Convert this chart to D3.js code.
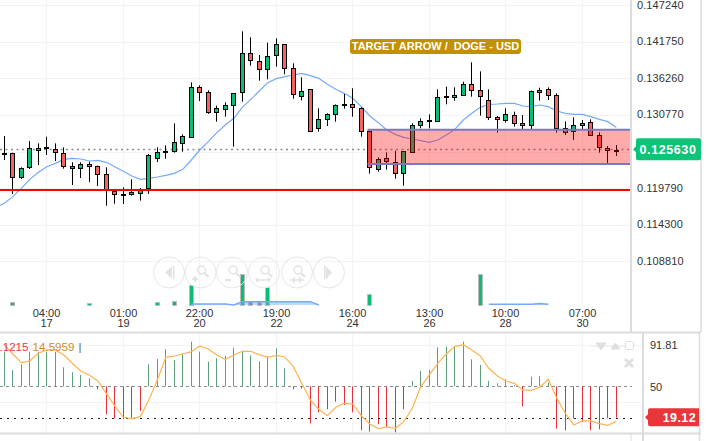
<!DOCTYPE html>
<html><head><meta charset="utf-8">
<style>html,body{margin:0;padding:0;background:#fff}svg{display:block;font-family:"Liberation Sans",Arial,sans-serif}</style>
<script src="https://cdn.jsdelivr.net/npm/d3@7/dist/d3.min.js"></script></head>
<body><div id="c"></div>
<script>
const opens=[.124835,.125035,.121385,.122885,.125435,.125735,.125635,.125035,.122735,.122735,.123385,.123085,.121885,.119435,.118835,.118835,.119135,.119735,.124385,.125285,.125335,.126635,.127435,.134935,.134185,.131135,.131635,.132235,.134185,.140035,.138835,.137585,.139735,.141385,.137785,.133685,.134635,.128785,.130135,.130885,.132185,.132385,.131785,.128335,.122785,.124285,.123685,.122035,.125185,.129235,.129835,.129835,.133535,.133535,.133735,.135385,.134485,.132985,.130435,.129935,.130735,.129535,.129185,.134185,.134635,.133785,.128885,.128335,.129185,.129685,.127735,.125785,.125435];
const closes=[.125035,.121435,.122785,.125785,.125785,.125935,.125135,.123085,.123085,.123385,.123035,.121835,.119535,.119035,.118935,.119185,.119735,.124735,.125285,.125385,.126685,.127635,.134935,.134185,.131135,.131785,.132235,.134035,.140035,.138985,.137585,.139585,.141385,.137785,.133885,.134435,.128335,.130135,.130885,.132235,.132385,.131885,.128335,.122935,.124235,.123835,.122035,.125335,.129235,.129835,.130035,.133435,.133635,.133785,.135385,.134485,.133635,.130435,.130135,.130885,.129535,.129185,.134335,.134535,.133685,.128885,.128335,.129235,.129535,.127685,.125885,.125435,.125585];
const highs=[.127635,.125135,.122935,.126885,.126535,.127535,.126535,.125935,.123685,.123685,.123785,.123185,.122935,.119535,.119935,.121135,.119835,.124935,.125935,.126235,.129535,.127885,.135685,.135235,.134485,.132185,.132685,.134035,.143335,.142435,.139785,.141635,.142285,.141385,.138535,.136435,.134635,.131785,.131035,.132385,.133935,.134785,.131935,.128335,.124435,.125185,.125435,.125385,.129535,.130285,.130885,.134635,.135035,.134935,.135785,.138685,.137335,.134635,.130635,.131785,.131285,.130785,.134435,.134885,.134935,.134035,.129835,.130435,.130035,.130135,.128185,.126135,.126285];
const lows=[.124035,.118935,.121185,.122685,.123285,.124785,.123885,.122735,.120285,.121335,.120735,.120135,.117185,.117485,.117435,.118685,.117935,.118935,.123735,.124235,.125135,.125285,.127435,.132885,.130935,.129785,.130535,.126035,.132785,.138185,.135935,.136135,.138035,.136885,.133235,.132985,.128335,.128285,.129135,.129785,.131735,.130535,.127535,.121985,.122285,.122585,.121235,.120185,.125185,.128785,.128785,.129835,.132385,.132935,.133635,.133535,.130685,.130035,.128135,.129635,.129035,.128635,.128635,.132935,.133035,.128135,.127785,.127035,.128635,.127685,.125135,.123435,.124635];
const maValues=[.116935,.117535,.118535,.119785,.121135,.122185,.123035,.123535,.124135,.124285,.124185,.123885,.123985,.123685,.123035,.122335,.121635,.121135,.121285,.121485,.121735,.122035,.122635,.124035,.125535,.126785,.128135,.129285,.130285,.131935,.133135,.134385,.135635,.136235,.136535,.136785,.137035,.136685,.136285,.135385,.134635,.134035,.133285,.132035,.130635,.129635,.128535,.127885,.127435,.127185,.126935,.126685,.127035,.127785,.128635,.130035,.131035,.131935,.132385,.132435,.132535,.132535,.132135,.132035,.132285,.132035,.131385,.131035,.130885,.130885,.130535,.130135,.129785,.128935];
const volumes=[0,3.3,0,0,0,0,0,0,0,0,2,0,0,0,0,0,0,0,2.7,0,4.3,0,20,0,0,0,0,0,31,4.3,3,18,0,0,0,0,0,0,0,0,0,0,0,11,0,0,0,0,0,0,0,0,0,0,0,.5,31,0,0,0,0,0,0,0,0,0,0,0,0,0,0,0,0];
const volumeMA=[null,null,null,null,null,null,null,null,null,null,null,null,null,null,null,null,null,null,null,null,null,null,1,1,1,1,1,0,3.3,3.3,3.3,3.3,3.3,3.3,3.3,3.3,3.3,0,null,null,null,null,null,null,null,null,null,null,null,null,null,null,null,null,null,null,null,.8,.8,.8,.8,.8,.8,1.5,.8,null,null,null,null,null,null,null,null];
const oscHist=[84.09,66.06,71.63,84.09,84.09,84.09,84.09,68.68,63.77,61.15,57.87,47.05,22.46,18.53,17.55,19.19,25.74,71.63,76.88,86.39,75.9,82.12,93.93,84.09,74.26,77.54,79.83,88.02,84.09,80.49,74.59,79.17,87.37,67.7,47.05,47.71,13.61,24.43,27.38,34.92,31.64,24.43,6.73,5.42,12.63,10.34,4.44,27.38,55.24,65.08,66.06,88.35,89.01,89.01,93.93,76.55,70.98,55.24,52.95,56.88,51.31,30.33,59.51,60.16,53.61,8.37,6.73,18.53,15.25,6.73,7.71,18.53,19.12];
const oscSignal=[90.65,81.8,73.27,74.91,82.45,85.73,85.73,80.81,72.62,65.08,61.15,55.24,43.12,30.66,19.51,18.2,20.17,36.56,56.23,78.52,79.83,81.8,84.09,89.66,86.71,80.81,76.55,80.81,84.42,84.42,81.14,78.52,80.49,78.85,69.34,52.95,36.56,27.38,21.15,29.35,33.28,32.63,21.15,12.96,8.37,10.01,8.7,15.25,28.37,49.67,61.15,72.62,81.8,89.01,90.98,85.73,79.83,67.7,60.16,55.24,52.95,46.39,46.07,49.02,56.88,38.2,23.45,11.97,15.91,15.91,13.29,11.65,15.58];
const priceTicks=[.14724,.14175,.13626,.13077,.11979,.1143,.10881];
const tickIndex=[5,14,23,32,41,50,59,68];
const tickTimes=["04:00","01:00","22:00","19:00","16:00","13:00","10:00","07:00"];
const tickDays=["17","19","20","22","24","26","28","30"];
const lastPrice=.12563, supportLevel=.119535, zoneTop=.128585, zoneBottom=.123435, zoneStart=43;
const oscTicks=[91.81,50], oscLast=19.12;

const W=708,H=441;
const svg=d3.select("#c").append("svg").attr("width",W).attr("height",H);
const x=d3.scaleLinear().domain([0,72]).range([4.3,616.3]);
const sx=i=>Math.floor(x(i))+.5;
const y=d3.scaleLinear().domain([.148035,.103035]).range([0,300]);
const yo=d3.scaleLinear().domain([50,19.12]).range([386.3,417.7]);
const yv=d3.scaleLinear().domain([0,31]).range([305,274]);
const GRID="#f3f3f3",BAND="#dcdcdc",GREEN="#0bbd74",RED="#f2655f";

svg.append("defs").append("clipPath").attr("id","pc").append("rect").attr("width",630).attr("height",332);
svg.select("defs").append("clipPath").attr("id","oc").append("rect").attr("y",334).attr("width",642).attr("height",99);
const main=svg.append("g").attr("clip-path","url(#pc)");
const low=svg.append("g").attr("clip-path","url(#oc)");

// grids
main.selectAll(".hg").data(d3.range(0,8)).join("line").attr("x1",0).attr("x2",630)
 .attr("y1",i=>Math.round(y(.14724-i*.00549))+.5).attr("y2",i=>Math.round(y(.14724-i*.00549))+.5).attr("stroke",GRID);
main.selectAll(".vg").data(tickIndex).join("line").attr("x1",i=>sx(i)).attr("x2",i=>sx(i)).attr("y1",0).attr("y2",304).attr("stroke",GRID);
low.selectAll(".vg").data(tickIndex).join("line").attr("x1",i=>sx(i)).attr("x2",i=>sx(i)).attr("y1",334).attr("y2",433).attr("stroke",GRID);
[345,402].forEach(v=>low.append("line").attr("x1",0).attr("x2",642).attr("y1",v+.5).attr("y2",v+.5).attr("stroke",GRID));

// last price dotted line
main.append("line").attr("x1",0).attr("x2",630).attr("y1",Math.round(y(lastPrice))+.5).attr("y2",Math.round(y(lastPrice))+.5)
 .attr("stroke","#8c8c8c").attr("stroke-width",1.4).attr("stroke-dasharray","2 3.5");

// MA
main.append("path").datum(maValues).attr("fill","none").attr("stroke","#75a9fb").attr("stroke-width",1.2)
 .attr("d",d3.line().x((d,i)=>x(i-1)).y(d=>y(d)));

// candles
const cg=main.selectAll(".c").data(d3.range(opens.length)).join("g");
cg.append("line").attr("x1",sx).attr("x2",sx).attr("y1",i=>y(highs[i])).attr("y2",i=>y(lows[i])).attr("stroke","#000").attr("stroke-width",1);
cg.append("rect").attr("x",i=>sx(i)-2).attr("width",4)
 .attr("y",i=>Math.round(y(Math.max(opens[i],closes[i])))+.5)
 .attr("height",i=>Math.max(.5,Math.round(Math.abs(y(opens[i])-y(closes[i])))))
 .attr("fill",i=>closes[i]>=opens[i]?GREEN:RED).attr("stroke","#000").attr("stroke-width",1);

// support
main.append("line").attr("x1",0).attr("x2",630).attr("y1",y(supportLevel)).attr("y2",y(supportLevel)).attr("stroke","#f00").attr("stroke-width",2);

// zone
const zx=sx(zoneStart)-2;
main.append("rect").attr("x",zx).attr("width",630-zx).attr("y",y(zoneTop)).attr("height",y(zoneBottom)-y(zoneTop)).attr("fill","#ff0000").attr("fill-opacity",.33);
[zoneTop,zoneBottom].forEach(p=>main.append("line").attr("x1",zx).attr("x2",630).attr("y1",y(p)).attr("y2",y(p)).attr("stroke","#7b78c2").attr("stroke-width",2));

// volume
main.selectAll(".v").data(d3.range(volumes.length).filter(i=>volumes[i]>0)).join("rect")
 .attr("x",i=>sx(i)-2).attr("width",4).attr("y",i=>Math.round(yv(volumes[i]))+.5).attr("height",i=>305-Math.round(yv(volumes[i])))
 .attr("fill",i=>(i===29||i===30)?"#b0707f":(i===55?"#ddd":GREEN)).attr("stroke","#bdbdbd").attr("stroke-width",1);
const va=d3.area().defined(d=>d!==null).x((d,i)=>x(i)).y0(yv(0)).y1(d=>yv(d));
main.append("path").datum(volumeMA).attr("fill","#75a9fb").attr("fill-opacity",.45).attr("d",va);
main.append("path").datum(volumeMA).attr("fill","none").attr("stroke","#75a9fb").attr("stroke-width",1.4).attr("d",d3.line().defined(d=>d!==null).x((d,i)=>x(i)).y(d=>yv(d)));

// toolbar
const tb=svg.append("g").attr("fill","none").attr("stroke","#e6e6e6").attr("stroke-width",1);
const cxs=[169,200.5,232,264,297,329];
cxs.forEach(c=>tb.append("circle").attr("cx",c).attr("cy",272.5).attr("r",15.5));
const ic="#e2e2e2";
tb.append("path").attr("d","M165 272.5l7-6v12z").attr("fill",ic).attr("stroke","none");
tb.append("rect").attr("x",173).attr("y",266).attr("width",1.5).attr("height",13).attr("fill",ic).attr("stroke","none");
tb.append("path").attr("d","M332 272.5l-6-6v13z").attr("fill",ic).attr("stroke","none");
tb.append("rect").attr("x",324).attr("y",266).attr("width",1.5).attr("height",13).attr("fill",ic).attr("stroke","none");
[200.5,232,264,297].forEach(c=>{
  tb.append("circle").attr("cx",c+1).attr("cy",270).attr("r",4).attr("stroke",ic).attr("stroke-width",1.5);
  tb.append("line").attr("x1",c+4).attr("y1",273).attr("x2",c+8).attr("y2",277).attr("stroke",ic).attr("stroke-width",2);
});
tb.append("path").attr("d","M192 279h6M195 276v6").attr("stroke",ic).attr("stroke-width",2);
tb.append("path").attr("d","M225 280h6").attr("stroke",ic).attr("stroke-width",2);
tb.append("path").attr("d","M256 280h14M256 280l2-2M256 280l2 2M270 280l-2-2M270 280l-2 2").attr("stroke",ic).attr("stroke-width",1.5);
tb.append("path").attr("d","M290 280h14M294 277v6M300 277v6").attr("stroke",ic).attr("stroke-width",1.5);

// oscillator
low.append("line").attr("x1",0).attr("x2",632).attr("y1",Math.round(yo(50))+.5).attr("y2",Math.round(yo(50))+.5).attr("stroke","#8c8c8c").attr("stroke-dasharray","3 3");
low.selectAll(".h").data(d3.range(oscHist.length)).join("line")
 .attr("x1",sx).attr("x2",sx).attr("y1",yo(50)).attr("y2",i=>yo(oscHist[i]))
 .attr("stroke",i=>oscHist[i]>=50?"#5c9f7a":"#e8303a").attr("stroke-width",1);
low.append("line").attr("x1",0).attr("x2",632).attr("y1",Math.round(yo(oscLast))+.5).attr("y2",Math.round(yo(oscLast))+.5).attr("stroke","#222").attr("stroke-dasharray","2 5");
low.append("path").datum(oscSignal).attr("fill","none").attr("stroke","#ffb24f").attr("stroke-width",1.2)
 .attr("d",d3.line().x((d,i)=>x(i)).y(d=>yo(d)));

// legend text
const leg=svg.append("text").attr("x",-.5).attr("y",351).attr("font-size",11.6);
leg.append("tspan").attr("fill","#e8383a").text(".1215");
leg.append("tspan").attr("dx",4).attr("fill","#cf8a30").text("14.5959");
leg.append("tspan").attr("dx",4).attr("fill","#666").text("|");

// panel icons
const pi=svg.append("g");
pi.append("line").attr("x1",590).attr("x2",632).attr("y1",346.5).attr("y2",346.5).attr("stroke","#f0f0f0");
pi.append("path").attr("d","M596 343h10l-5 7z").attr("fill","#dfdfdf").attr("stroke","#dfdfdf").attr("stroke-linejoin","round");
pi.append("path").attr("d","M611 349h9l-4.5-6z").attr("fill","#dfdfdf").attr("stroke","#dfdfdf").attr("stroke-linejoin","round");
pi.append("rect").attr("x",625.5).attr("y",341.5).attr("width",8).attr("height",8).attr("rx",1).attr("fill","#fff").attr("stroke","#dfdfdf");
pi.append("path").attr("d","M625 359l8 8M633 359l-8 8").attr("stroke","#dfdfdf").attr("stroke-width",2.6);

// frame bands
const band=(a,b,c,d,w)=>svg.append("line").attr("x1",a).attr("y1",b).attr("x2",c).attr("y2",d).attr("stroke",BAND).attr("stroke-width",w);
band(631,0,631,332,2); band(701,0,701,332,1.5);
band(0,332.5,701,332.5,2); band(0,433.5,701,433.5,2);
band(643,333,643,441,2); band(699.5,333,699.5,441,1.5);
band(631,433,631,441,1);

// x labels
const xa=svg.append("g").attr("text-anchor","middle").attr("font-size",11).attr("fill","#333");
tickIndex.forEach((t,k)=>{
  xa.append("text").attr("x",sx(t)).attr("y",316.5).text(tickTimes[k]);
  xa.append("text").attr("x",sx(t)).attr("y",327).text(tickDays[k]);
});

// right axis
const ax=svg.append("g").attr("transform","translate(637,-0.8)").call(d3.axisRight(y).tickValues(priceTicks).tickSize(0).tickPadding(0).tickFormat(d3.format(".6f")));
ax.select(".domain").remove();
ax.selectAll("text").attr("font-size",11).attr("font-family","inherit").attr("fill","#333").attr("letter-spacing",".1px");
const ax2=svg.append("g").attr("transform","translate(650,0.8)").call(d3.axisRight(yo).tickValues(oscTicks).tickSize(0).tickPadding(0).tickFormat(d3.format(".4~f")));
ax2.select(".domain").remove();
ax2.selectAll("text").attr("font-size",11).attr("font-family","inherit").attr("fill","#333");

// last price tag
const yp=y(lastPrice);
svg.append("path").attr("d",`M633 ${yp}l3-3v-6a2 2 0 0 1 2-2h61a2 2 0 0 1 2 2v18a2 2 0 0 1-2 2h-61a2 2 0 0 1-2-2v-6z`).attr("fill","#0cc477");
svg.append("text").attr("x",668).attr("y",yp+4.5).attr("text-anchor","middle").attr("font-size",12.5).attr("font-weight","bold").attr("fill","#fff").attr("letter-spacing",".6px").text(d3.format(".6f")(lastPrice));

// osc tag
const yq=yo(oscLast);
svg.append("path").attr("d",`M645 ${yq-.5}l3-3v-4a2 2 0 0 1 2-2h49v18h-49a2 2 0 0 1-2-2v-4z`).attr("fill","#ea363a");
svg.append("text").attr("x",696).attr("y",yq+3.8).attr("text-anchor","end").attr("font-size",12.5).attr("font-weight","bold").attr("fill","#fff").attr("letter-spacing",".4px").text(d3.format(".2f")(oscLast));

// annotation
svg.append("rect").attr("x",350).attr("y",39).attr("width",171).attr("height",15).attr("rx",3).attr("fill","#c09102");
svg.append("text").attr("x",435.5).attr("y",50.3).attr("text-anchor","middle").attr("font-size",11).attr("font-weight","bold").attr("fill","#fff").style("white-space","pre").text("TARGET ARROW /  DOGE - USD");
</script></body></html>
